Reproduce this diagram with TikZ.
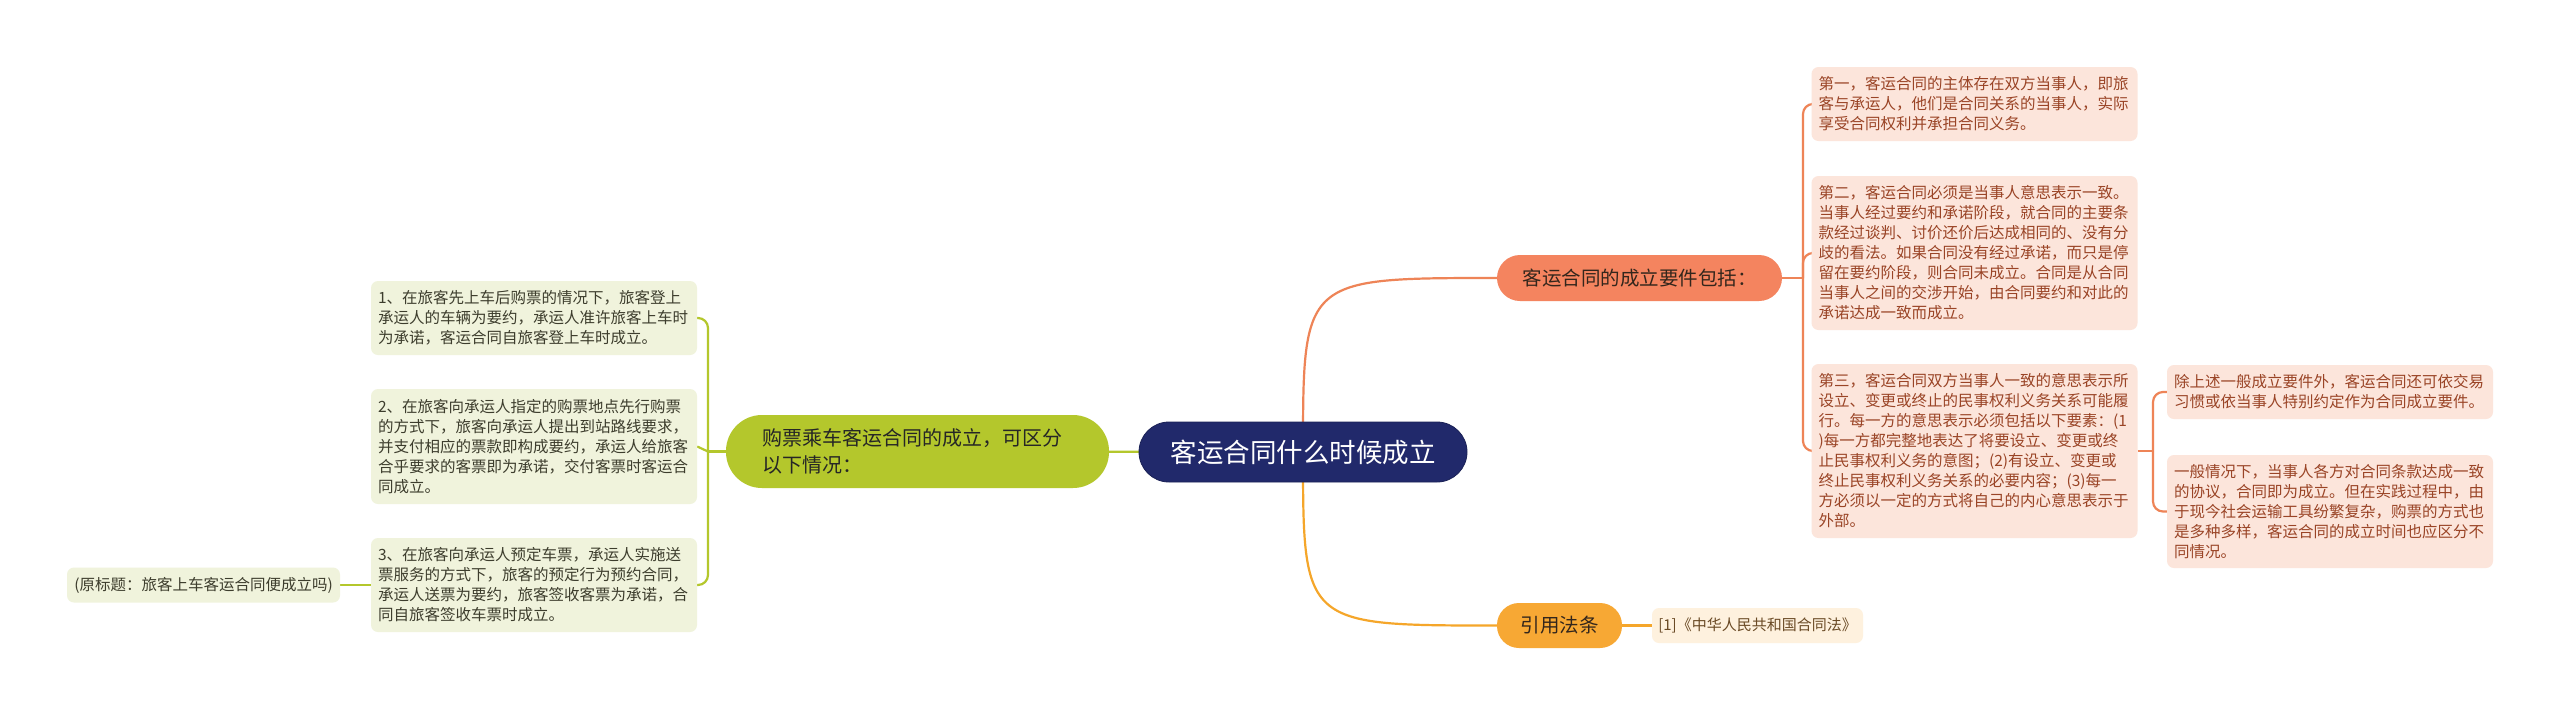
\documentclass[tikz,border=0pt]{standalone}
\usepackage{fontspec}
\setmainfont{Noto Sans CJK SC}
\usetikzlibrary{backgrounds}
\definecolor{navy}{HTML}{21296B}
\definecolor{onode}{HTML}{F4845F}
\definecolor{oline}{HTML}{EE8457}
\definecolor{ynode}{HTML}{F7A834}
\definecolor{yline}{HTML}{F5A62A}
\definecolor{gnode}{HTML}{B4C72C}
\definecolor{rfill}{HTML}{FCE5DB}
\definecolor{rtext}{HTML}{9A4426}
\definecolor{lfill}{HTML}{F0F3DC}
\definecolor{ltext}{HTML}{3D3D2D}
\definecolor{yfill}{HTML}{FEF1DE}
\definecolor{ytext}{HTML}{6A4A25}
\definecolor{dtext}{HTML}{33261C}
\begin{document}
\begin{tikzpicture}[x=1pt,y=-1pt,
  central/.style={fill=navy,draw=navy!80!black,line width=0.8pt,text=white,rounded corners=30pt,minimum width=328pt,minimum height=60pt,font=\fontsize{26.5}{30}\selectfont,inner sep=0pt},
  onodest/.style={fill=onode,text=dtext,rounded corners=23pt,minimum width=285pt,minimum height=46pt,font=\fontsize{19.5}{24}\selectfont,inner sep=0pt},
  ynodest/.style={fill=ynode,text=dtext,rounded corners=22pt,minimum width=125pt,minimum height=45pt,font=\fontsize{19.5}{24}\selectfont,inner sep=0pt},
  gnodest/.style={fill=gnode,text=black!85,rounded corners=36pt,minimum width=383pt,minimum height=73pt,font=\fontsize{20}{27}\selectfont,align=left,text width=310pt,inner ysep=0pt},
  rbox/.style={fill=rfill,text=rtext,rounded corners=7pt,text width=312pt,inner xsep=7pt,inner ysep=0pt,align=left,font=\fontsize{15.5}{20}\selectfont},
  lbox/.style={fill=lfill,text=ltext,rounded corners=7pt,text width=312pt,inner xsep=7pt,inner ysep=0pt,align=left,font=\fontsize{15.5}{20}\selectfont},
  lsmall/.style={fill=lfill,text=ltext,rounded corners=7pt,minimum width=273pt,minimum height=35pt,inner sep=0pt,font=\fontsize{15.5}{20}\selectfont},
  refbox/.style={fill=yfill,text=ytext,rounded corners=7pt,minimum width=211pt,minimum height=35pt,inner sep=0pt,font=\fontsize{15}{20}\selectfont},
  gl/.style={draw=gnode,line width=2.2pt},
  ol/.style={draw=oline,line width=2.2pt},
  yl/.style={draw=yline,line width=2.2pt}
]
\useasboundingbox (0,0) rectangle (2560,716);

\node[central] (c) at (1303,452) {客运合同什么时候成立};
\node[onodest] (o) at (1639.5,278) {客运合同的成立要件包括：};
\node[ynodest] (y) at (1559.5,625.5) {引用法条};
\node[refbox] (ref) at (1757.5,625.5) {[1]《中华人民共和国合同法》};
\node[gnodest] (g) at (917.5,451.5) {购票乘车客运合同的成立，可区分\\以下情况：};

\node[lbox,minimum height=74pt] (b1) at (534,318) {1、在旅客先上车后购票的情况下，旅客登上\\承运人的车辆为要约，承运人准许旅客上车时\\为承诺，客运合同自旅客登上车时成立。};
\node[lbox,minimum height=115pt] (b2) at (534,446.5) {2、在旅客向承运人指定的购票地点先行购票\\的方式下，旅客向承运人提出到站路线要求，\\并支付相应的票款即构成要约，承运人给旅客\\合乎要求的客票即为承诺，交付客票时客运合\\同成立。};
\node[lbox,minimum height=94pt] (b3) at (534,585) {3、在旅客向承运人预定车票，承运人实施送\\票服务的方式下，旅客的预定行为预约合同，\\承运人送票为要约，旅客签收客票为承诺，合\\同自旅客签收车票时成立。};
\node[lsmall] (b4) at (203.5,585) {(原标题：旅客上车客运合同便成立吗)};

\node[rbox,minimum height=74pt] (r1) at (1974.5,104) {第一，客运合同的主体存在双方当事人，即旅\\客与承运人，他们是合同关系的当事人，实际\\享受合同权利并承担合同义务。};
\node[rbox,minimum height=154pt] (r2) at (1974.5,253) {第二，客运合同必须是当事人意思表示一致。\\当事人经过要约和承诺阶段，就合同的主要条\\款经过谈判、讨价还价后达成相同的、没有分\\歧的看法。如果合同没有经过承诺，而只是停\\留在要约阶段，则合同未成立。合同是从合同\\当事人之间的交涉开始，由合同要约和对此的\\承诺达成一致而成立。};
\node[rbox,minimum height=174pt] (r3) at (1974.5,451) {第三，客运合同双方当事人一致的意思表示所\\设立、变更或终止的民事权利义务关系可能履\\行。每一方的意思表示必须包括以下要素：(1\\)每一方都完整地表达了将要设立、变更或终\\止民事权利义务的意图；(2)有设立、变更或\\终止民事权利义务关系的必要内容；(3)每一\\方必须以一定的方式将自己的内心意思表示于\\外部。};
\node[rbox,minimum height=54pt] (rr1) at (2330,392) {除上述一般成立要件外，客运合同还可依交易\\习惯或依当事人特别约定作为合同成立要件。};
\node[rbox,minimum height=113pt] (rr2) at (2330,511.5) {一般情况下，当事人各方对合同条款达成一致\\的协议，合同即为成立。但在实践过程中，由\\于现今社会运输工具纷繁复杂，购票的方式也\\是多种多样，客运合同的成立时间也应区分不\\同情况。};

\coordinate (gj) at (708,451.5);
\coordinate (oj) at (1803,278);
\coordinate (rj) at (2153,451);

\begin{scope}[on background layer]
\fill[white] (0,0) rectangle (2560,716);
\draw[ol] (c.center) .. controls (c.center |- o.west) .. (o.west);
\draw[yl] (c.center) .. controls (c.center |- y.west) .. (y.west);
\draw[gl] (g.center) -- (c.center);
\draw[yl] (y.east) -- (ref.west);
\draw[gl] (g.west) -- (gj);
\draw[gl,rounded corners=10pt] (gj) |- (b1.east);
\draw[gl] (gj) -- (b2.east);
\draw[gl,rounded corners=10pt] (gj) |- (b3.east);
\draw[gl] (b4.east) -- (b3.west);
\draw[ol] (o.east) -- (oj);
\draw[ol,rounded corners=10pt] (oj) |- (r1.west);
\draw[ol,rounded corners=10pt] (oj) |- (r2.west);
\draw[ol,rounded corners=10pt] (oj) |- (r3.west);
\draw[ol] (r3.east) -- (rj);
\draw[ol,rounded corners=10pt] (rj) |- (rr1.west);
\draw[ol,rounded corners=10pt] (rj) |- (rr2.west);
\end{scope}
\end{tikzpicture}
\end{document}
